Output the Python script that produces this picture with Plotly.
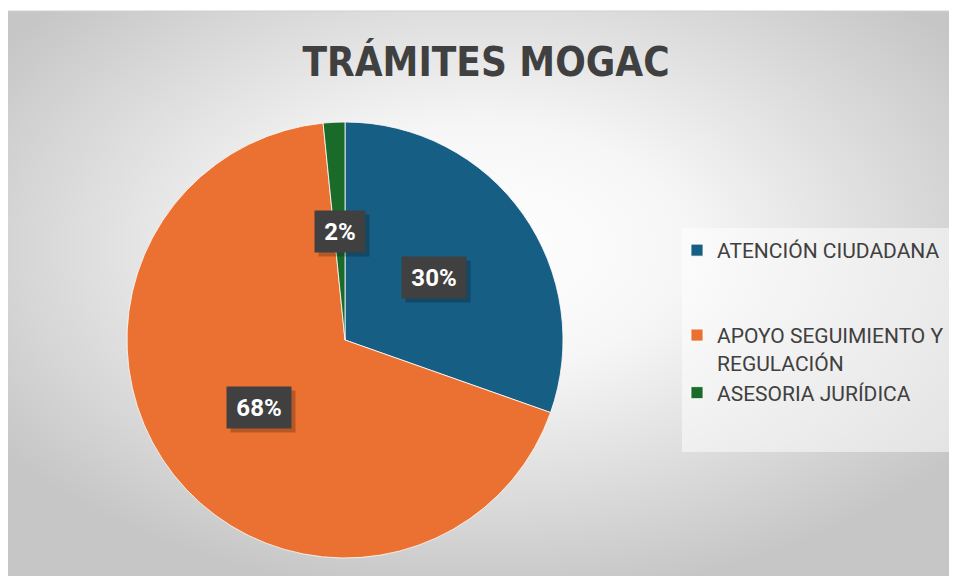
import math
import plotly.graph_objects as go

# ---- data ----
categories = ["ATENCIÓN CIUDADANA", "APOYO SEGUIMIENTO Y REGULACIÓN", "ASESORIA JURÍDICA"]
legend_labels = ["ATENCIÓN CIUDADANA<br> <br> ", "APOYO SEGUIMIENTO Y<br>REGULACIÓN", "ASESORIA JURÍDICA"]
values = [30.4, 68.0, 1.6]
label_text = ["30%", "68%", "2%"]
colors = ["#175E84", "#EA7131", "#1A6B2A"]
title_text = "TRÁMITES MOGAC"

# page body has an 8px margin, so figure coords = screen coords - 8
OFF = 8
W, H = 957 - OFF, 578 - OFF
cx_px, cy_px, r_px = 345 - OFF, 340 - OFF, 218

dom_x = [(cx_px - r_px) / W, (cx_px + r_px) / W]
dom_y = [(H - cy_px - r_px) / H, (H - cy_px + r_px) / H]

fig = go.Figure()
fig.add_trace(go.Pie(
    labels=legend_labels,
    values=values,
    sort=False,
    direction="clockwise",
    rotation=0,
    marker=dict(colors=colors, line=dict(color="rgba(255,255,255,0.8)", width=1)),
    textinfo="none",
    hoverinfo="skip",
    domain=dict(x=dom_x, y=dom_y),
))

# label boxes placed at half radius along each slice's mid-angle
total = sum(values)
cum = 0.0
annotations = []
for v, t in zip(values, label_text):
    mid = (cum + v / 2) / total * 2 * math.pi
    cum += v
    px = cx_px + 0.5 * r_px * math.sin(mid)
    py = cy_px - 0.5 * r_px * math.cos(mid)
    xp, yp = px / W, 1 - py / H
    w = 64 if len(t) > 2 else 50
    annotations.append(dict(x=xp, y=yp, xref="paper", yref="paper", text="",
                            xanchor="center", yanchor="middle",
                            showarrow=False, width=w, height=41, borderpad=0,
                            bgcolor="rgba(0,0,0,0.22)", xshift=4, yshift=-4))
    annotations.append(dict(x=xp, y=yp, xref="paper", yref="paper",
                            xanchor="center", yanchor="middle",
                            text="<b>%s</b>" % t, showarrow=False,
                            font=dict(family="Roboto, Arial", size=24, color="white"),
                            width=w, height=41, borderpad=0, bgcolor="#404040",
                            align="center", valign="middle"))

svg = ("data:image/svg+xml;utf8,"
       "<svg xmlns='http://www.w3.org/2000/svg' width='950' height='565' viewBox='0 0 950 565' preserveAspectRatio='none'>"
       "<defs><radialGradient id='g' cx='50%' cy='42%' r='62%'>"
       "<stop offset='0%' stop-color='%23ffffff'/>"
       "<stop offset='35%' stop-color='%23f6f6f6'/>"
       "<stop offset='100%' stop-color='%23c6c6c6'/>"
       "</radialGradient></defs>"
       "<rect x='0' y='0' width='950' height='565' fill='url(%23g)'/></svg>")

fig.update_layout(
    width=W, height=H,
    margin=dict(l=0, r=0, t=0, b=0),
    paper_bgcolor="white",
    plot_bgcolor="white",
    images=[dict(source=svg, xref="paper", yref="paper",
                 x=0, y=1 - (11 - OFF) / H, sizex=1, sizey=(576 - 11) / H,
                 xanchor="left", yanchor="top", sizing="stretch", layer="below")],
    shapes=[
        dict(type="rect", xref="paper", yref="paper",
             x0=(682 - OFF) / W, x1=(952 - OFF) / W,
             y0=1 - (452 - OFF) / H, y1=1 - (228 - OFF) / H,
             fillcolor="rgba(255,255,255,0.5)", line=dict(width=0), layer="below"),
        dict(type="line", xref="paper", yref="paper",
             x0=0, x1=1, y0=1 - (11 - OFF) / H, y1=1 - (11 - OFF) / H,
             line=dict(color="#cfcfcf", width=1)),
    ],
    title=dict(text="<b>%s</b>" % title_text, x=(486 - OFF) / W, xanchor="center",
               y=1 - (62 - OFF) / H, yanchor="middle",
               font=dict(family="DejaVu Sans Condensed, Roboto", size=40, color="#404040")),
    legend=dict(x=(677 - OFF) / W, y=1 - (230 - OFF) / H, xanchor="left", yanchor="top",
                bgcolor="rgba(0,0,0,0)", valign="top",
                font=dict(family="Roboto, Arial", size=21, color="#404040"),
                itemclick=False, itemdoubleclick=False),
    showlegend=True,
    annotations=annotations,
)

fig.write_html("out.html")
